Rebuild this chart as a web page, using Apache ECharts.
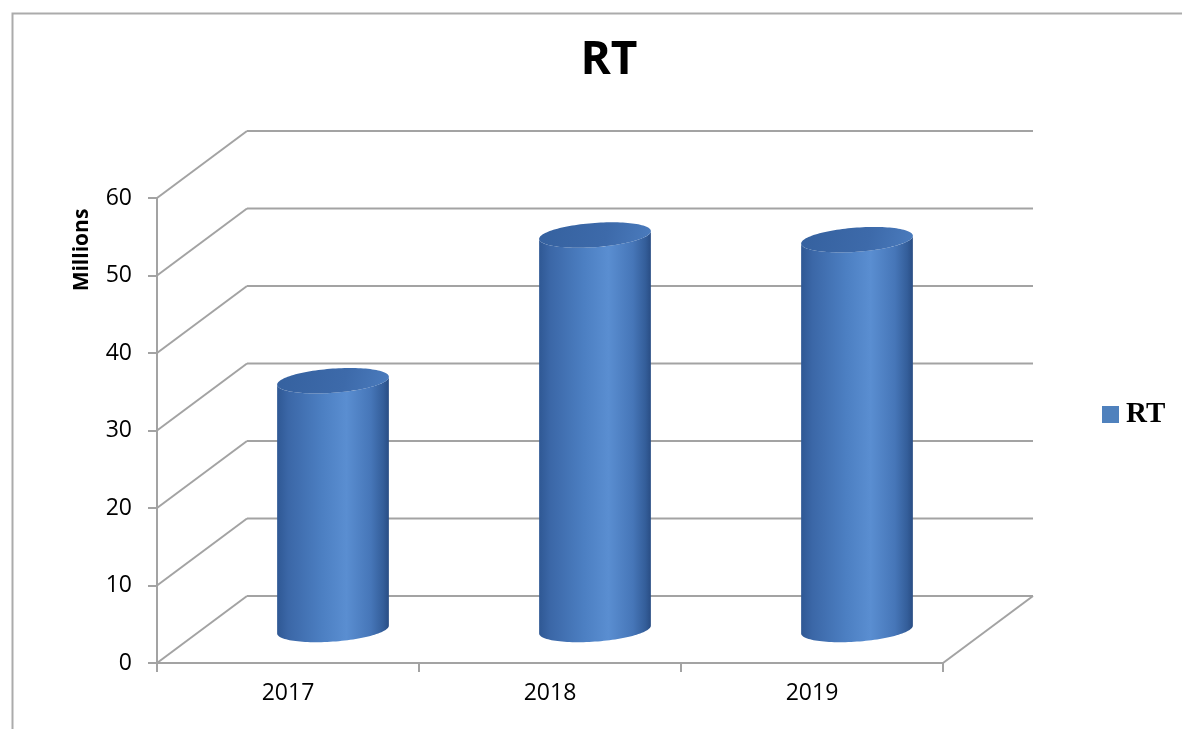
<!DOCTYPE html>
<html>
<head>
<meta charset="utf-8">
<title>RT</title>
<script src="https://cdn.jsdelivr.net/npm/echarts@6/dist/echarts.min.js"></script>
<style>
  html, body { margin: 0; padding: 0; background: #ffffff; }
  #chart { width: 1182px; height: 729px; }
</style>
</head>
<body>
<div id="chart"></div>
<script>
// Data
const categories = ['2017', '2018', '2019'];
const rtValues = [32.1, 50.9, 50.3];
const yTicks = [0, 10, 20, 30, 40, 50, 60];

// Oblique 3D look: screen offset from the front plane to the back wall
const DX = 90;
const DY = -67;
const GRID_COLOR = '#a3a3a3';

const chart = echarts.init(document.getElementById('chart'));

// Back wall gridlines, side-wall diagonals and the floor edge
function renderWall(params, api) {
  const v = api.value(1);
  const cs = params.coordSys;
  const y = api.coord([0, v])[1];
  const x0 = cs.x;
  const x1 = cs.x + cs.width;
  const style = { stroke: GRID_COLOR, lineWidth: 2, fill: null };
  const children = [
    { type: 'line', shape: { x1: x0, y1: y, x2: x0 + DX, y2: y + DY }, style: style },
    { type: 'line', shape: { x1: x0 + DX, y1: y + DY, x2: x1 + DX, y2: y + DY }, style: style }
  ];
  if (v === 0) {
    children.push({ type: 'line', shape: { x1: x1, y1: y, x2: x1 + DX, y2: y + DY }, style: style });
  }
  return { type: 'group', children: children };
}

// Cylinder standing halfway into the depth of the plot
function renderCylinder(params, api) {
  const idx = api.value(0);
  const v = api.value(1);
  const top = api.coord([idx, v]);
  const base = api.coord([idx, 0]);
  const band = api.size([1, 0])[0];
  const R = band * 0.203;
  const k = 0.19;
  const ax = DX * k;
  const ay = DY * k;
  const tx = top[0] + DX / 2, ty = top[1] + DY / 2;
  const bx = base[0] + DX / 2, by = base[1] + DY / 2;
  const pt = function (cx, cy, t) {
    return [cx + R * Math.cos(t) + ax * Math.sin(t), cy + ay * Math.sin(t)];
  };
  const t0 = Math.atan2(ax, R);
  const N = 60;
  const body = [];
  for (let i = 0; i <= N; i++) {
    body.push(pt(bx, by, t0 - Math.PI + Math.PI * i / N));
  }
  for (let i = 0; i <= N; i++) {
    body.push(pt(tx, ty, t0 - Math.PI * i / N));
  }
  const cap = [];
  for (let i = 0; i < 2 * N; i++) {
    cap.push(pt(tx, ty, Math.PI * i / N));
  }
  return {
    type: 'group',
    children: [
      {
        type: 'polygon',
        shape: { points: body },
        style: {
          fill: new echarts.graphic.LinearGradient(0, 0, 1, 0, [
            { offset: 0, color: '#2f5894' },
            { offset: 0.1, color: '#3b67a7' },
            { offset: 0.4, color: '#4c7fc2' },
            { offset: 0.62, color: '#5a8ed1' },
            { offset: 0.84, color: '#4676b8' },
            { offset: 0.95, color: '#345e9a' },
            { offset: 1, color: '#294d84' }
          ]),
          stroke: null
        }
      },
      {
        type: 'polygon',
        shape: { points: cap },
        style: {
          fill: new echarts.graphic.LinearGradient(0, 0, 1, 1, [
            { offset: 0, color: '#35619f' },
            { offset: 0.6, color: '#3d6aaa' },
            { offset: 1, color: '#4b7cbe' }
          ]),
          stroke: null
        }
      }
    ]
  };
}

const option = {
  animation: false,
  backgroundColor: '#ffffff',
  title: {
    text: 'RT',
    left: 604,
    top: 33,
    textAlign: 'center',
    textStyle: { fontFamily: 'Open Sans', fontWeight: 'bold', fontSize: 46, color: '#000000' }
  },
  legend: {
    data: ['RT'],
    orient: 'vertical',
    left: 1097,
    top: 395,
    icon: 'rect',
    itemWidth: 17,
    itemHeight: 17,
    itemGap: 8,
    textStyle: { fontFamily: 'Liberation Serif', fontWeight: 'bold', fontSize: 29, color: '#000000', padding: [0, 0, 0, 2] }
  },
  graphic: [
    {
      type: 'rect',
      left: 10,
      top: 11,
      shape: { width: 1200, height: 800 },
      style: { fill: null, stroke: '#ababab', lineWidth: 2 },
      silent: true
    },
    {
      type: 'text',
      x: 82,
      y: 250,
      rotation: Math.PI / 2,
      style: {
        text: 'Millions',
        fontFamily: 'Open Sans',
        fontWeight: 'bold',
        fontSize: 21,
        fill: '#000000',
        align: 'center',
        verticalAlign: 'middle'
      }
    }
  ],
  grid: { left: 157, right: 239, top: 198, bottom: 66, containLabel: false },
  xAxis: {
    type: 'category',
    data: categories,
    boundaryGap: true,
    axisLine: { show: true, lineStyle: { color: GRID_COLOR, width: 2 } },
    axisTick: { show: true, length: 9, lineStyle: { color: GRID_COLOR, width: 2 } },
    axisLabel: { margin: 19, fontFamily: 'Open Sans', fontSize: 23, color: '#000000' },
    splitLine: { show: false }
  },
  yAxis: {
    type: 'value',
    min: 0,
    max: 60,
    interval: 10,
    axisLine: { show: true, lineStyle: { color: GRID_COLOR, width: 2 } },
    axisTick: { show: true, length: 9, lineStyle: { color: GRID_COLOR, width: 2 } },
    axisLabel: { margin: 25, fontFamily: 'Open Sans', fontSize: 23, color: '#000000' },
    splitLine: { show: false }
  },
  series: [
    {
      name: 'walls',
      type: 'custom',
      silent: true,
      z: 1,
      data: yTicks.map(function (v) { return [0, v]; }),
      renderItem: renderWall
    },
    {
      name: 'RT',
      type: 'custom',
      z: 3,
      itemStyle: { color: '#4f81bd' },
      data: rtValues.map(function (v, i) { return [i, v]; }),
      encode: { x: 0, y: 1 },
      renderItem: renderCylinder
    }
  ]
};

chart.setOption(option);
</script>
</body>
</html>
